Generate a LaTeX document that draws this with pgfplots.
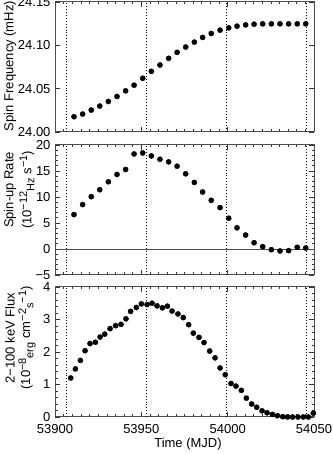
\documentclass[border=0pt]{standalone}
\usepackage{pgfplots}
\pgfplotsset{compat=1.18}
\usepackage{fontspec}
\setmainfont{Liberation Sans}
\newcommand\sps[1]{\raisebox{0.6ex}{\fontsize{11}{12}\selectfont #1}}
\newcommand\sbs[1]{\raisebox{-0.45ex}{\fontsize{11}{12}\selectfont #1}}
\pgfplotsset{
  panel/.style={
    scale only axis, width=259pt, height=130pt,
    xmin=53900, xmax=54050,
    xtick={53900,53950,54000,54050},
    scaled ticks=false,
    minor x tick num=9,
    tick align=inside,
    major tick length=5pt, minor tick length=2.5pt,
    axis line style={black!70, line width=1pt},
    every tick/.style={black!80, line width=0.6pt},
    /pgf/number format/assume math mode=true,
    /pgf/number format/1000 sep={},
    tick label style={font=\fontsize{13}{15}\selectfont},
    xticklabel style={yshift=-3pt},
    clip=true,
  },
  dots/.style={only marks, mark=*, mark size=2.6pt, black},
  vl/.style={black, line width=0.6pt, dash pattern=on 0.9pt off 2pt},
}
\begin{document}
\fontsize{13}{15}\selectfont
\begin{tikzpicture}[x=1pt,y=1pt]
% ---------------- Panel 1 ----------------
\begin{axis}[panel, at={(55pt,322pt)}, anchor=south west,
  ymin=24.00, ymax=24.15,
  ytick={24.00,24.05,24.10,24.15},
  yticklabels={24.00,24.05,24.10,24.15},
  xticklabels={}]
\addplot[vl] coordinates {(53906.8,24.00) (53906.8,24.15)};
\addplot[vl] coordinates {(53952.7,24.00) (53952.7,24.15)};
\addplot[vl] coordinates {(53999.4,24.00) (53999.4,24.15)};
\addplot[vl] coordinates {(54045.3,24.00) (54045.3,24.15)};
\addplot[dots] coordinates {
(53911.0,24.0176) (53916.0,24.0207) (53921.0,24.0253) (53925.9,24.0299)
(53930.9,24.0352) (53935.9,24.0410) (53940.9,24.0475) (53945.8,24.0540)
(53950.8,24.0620) (53955.8,24.0700) (53960.8,24.0773) (53965.8,24.0850)
(53970.7,24.0919) (53975.7,24.0980) (53980.7,24.1037) (53985.5,24.1091)
(53990.5,24.1137) (53995.6,24.1175) (54000.6,24.1202) (54005.4,24.1221)
(54010.4,24.1236) (54015.3,24.1244) (54020.3,24.1248) (54025.3,24.1248)
(54030.3,24.1248) (54035.3,24.1248) (54040.3,24.1248) (54045.2,24.1248)
(54050.2,24.1248)};
\end{axis}
% ---------------- Panel 2 ----------------
\begin{axis}[panel, at={(55pt,179pt)}, anchor=south west,
  ymin=-5, ymax=20,
  ytick={-5,0,5,10,15,20},
  yticklabels={−5,0,5,10,15,20},
  minor y tick num=4,
  xticklabels={}]
\addplot[black!70, line width=0.7pt] coordinates {(53900,0) (54050,0)};
\addplot[vl] coordinates {(53906.8,-5) (53906.8,20)};
\addplot[vl] coordinates {(53952.7,-5) (53952.7,20)};
\addplot[vl] coordinates {(53999.4,-5) (53999.4,20)};
\addplot[vl] coordinates {(54045.3,-5) (54045.3,20)};
\addplot[dots] coordinates {
(53911.0,6.62) (53916.0,8.54) (53921.0,10.06) (53925.9,11.40)
(53930.9,12.93) (53935.9,14.33) (53940.9,15.29) (53945.8,18.28)
(53950.8,18.47) (53955.8,17.90) (53960.8,17.26) (53965.8,16.75)
(53970.7,15.92) (53975.7,14.46) (53980.7,12.80) (53985.5,10.96)
(53990.5,9.36) (53995.6,7.96) (54000.6,5.92) (54005.4,4.08)
(54010.4,2.68) (54015.3,1.21) (54020.3,0.45) (54025.3,-0.13)
(54030.3,-0.38) (54035.3,-0.32) (54040.3,0.32) (54045.2,0.19)
(54050.2,0.76)};
\end{axis}
% ---------------- Panel 3 ----------------
\begin{axis}[panel, at={(55pt,37pt)}, anchor=south west,
  ymin=0, ymax=4,
  ytick={0,1,2,3,4},
  yticklabels={0,1,2,3,4},
  xticklabels={53900,53950,54000,54050},
  minor y tick num=4]
\addplot[vl] coordinates {(53906.8,0) (53906.8,4)};
\addplot[vl] coordinates {(53952.7,0) (53952.7,4)};
\addplot[vl] coordinates {(53999.4,0) (53999.4,4)};
\addplot[vl] coordinates {(54045.3,0) (54045.3,4)};
\addplot[dots] coordinates {
(53909.1,1.20) (53911.8,1.48) (53914.7,1.74) (53917.4,2.04)
(53920.3,2.26) (53923.4,2.30) (53926.1,2.46) (53928.8,2.55)
(53931.9,2.72) (53935.1,2.81) (53938.2,2.85) (53941.1,3.02)
(53943.8,3.25) (53947.1,3.37) (53950.0,3.48) (53953.3,3.46)
(53956.2,3.50) (53959.1,3.42) (53962.2,3.36) (53965.1,3.41)
(53967.8,3.26) (53971.2,3.17) (53974.3,3.06) (53977.4,2.84)
(53980.1,2.58) (53983.4,2.45) (53986.3,2.29) (53989.6,2.03)
(53992.7,1.82) (53995.6,1.51) (53998.6,1.30) (54001.9,1.03)
(54004.8,0.95) (54007.9,0.82) (54010.8,0.58) (54013.9,0.40)
(54016.8,0.30) (54019.9,0.19) (54022.8,0.13) (54025.9,0.08)
(54028.8,0.04) (54031.9,0.01) (54034.7,0.00) (54037.6,0.00)
(54040.7,0.00) (54043.8,0.00) (54046.7,0.00) (54049.6,0.12)};
\end{axis}
% ---------------- Labels ----------------
\node[rotate=90] at (10pt,388pt) {Spin Frequency (mHz)};
\node[rotate=90] at (10pt,264pt) {Spin-up Rate};
\node[rotate=90] at (27pt,264pt) {(10\sps{−12}\sbs{Hz} s\sps{−1})};
\node[rotate=90] at (10pt,116pt) {2−100 keV Flux};
\node[rotate=90] at (27pt,116pt) {(10\sps{−8}\sbs{erg} cm\sps{−2}\sbs{s}\sps{−1})};
\node at (188pt,10pt) {Time (MJD)};
\pgfresetboundingbox
\useasboundingbox (0pt,0pt) rectangle (332pt,454pt);
\end{tikzpicture}
\end{document}
